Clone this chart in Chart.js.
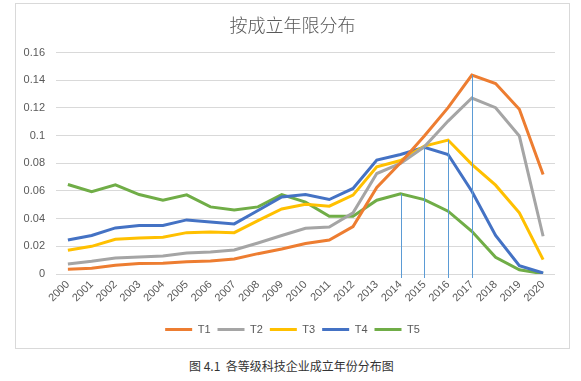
<!DOCTYPE html>
<html>
<head>
<meta charset="utf-8">
<script src="https://cdn.jsdelivr.net/npm/chart.js@4"></script>
<style>
  html, body { margin: 0; padding: 0; background: #fff; }
  body { width: 581px; height: 381px; position: relative; overflow: hidden; }
  #box { position: absolute; left: 15px; top: 3px; width: 555px; height: 346px; box-sizing: border-box; border: 1px solid #d9d9d9; }
  #wrap { position: absolute; left: 0; top: 0; width: 553px; height: 344px; }
  #caption { position: absolute; left: 189px; top: 358px; white-space: pre; font: 12px/16px "Noto Sans CJK SC", "Liberation Sans", sans-serif; color: #333; }
</style>
</head>
<body>
<div id="box"><div id="wrap"><canvas id="c"></canvas></div></div>
<div id="caption">图 4.1  各等级科技企业成立年份分布图</div>
<script>
const years = ['2000','2001','2002','2003','2004','2005','2006','2007','2008','2009','2010','2011','2012','2013','2014','2015','2016','2017','2018','2019','2020'];
const T1 = [0.0034,0.0041,0.0063,0.0075,0.0077,0.0089,0.0094,0.0109,0.0147,0.0181,0.0220,0.0246,0.0343,0.0625,0.0804,0.0997,0.1202,0.1438,0.1376,0.1190,0.0719];
const T2 = [0.0072,0.0092,0.0116,0.0123,0.0130,0.0152,0.0159,0.0174,0.0224,0.0278,0.0331,0.0340,0.0442,0.0726,0.0799,0.0919,0.1105,0.1272,0.1202,0.0997,0.0273];
const T3 = [0.0171,0.0200,0.0251,0.0261,0.0265,0.0299,0.0304,0.0299,0.0386,0.0470,0.0504,0.0490,0.0570,0.0775,0.0820,0.0924,0.0968,0.0792,0.0642,0.0442,0.0104];
const T4 = [0.0246,0.0278,0.0333,0.0350,0.0350,0.0391,0.0376,0.0362,0.0459,0.0557,0.0574,0.0538,0.0618,0.0823,0.0864,0.0915,0.0864,0.0598,0.0278,0.0060,0.0007];
const T5 = [0.0647,0.0594,0.0644,0.0574,0.0533,0.0572,0.0485,0.0463,0.0485,0.0574,0.0519,0.0417,0.0417,0.0533,0.0579,0.0538,0.0454,0.0309,0.0121,0.0031,0.0002];
const yTicks = [0, 0.02, 0.04, 0.06, 0.08, 0.1, 0.12, 0.14, 0.16];
// drop lines: year and the series whose value it falls from
const dropYears = ['2014','2015','2016','2017'];
const dropSeries = ['T5','T4','T3','T1'];

const seriesMap = {T1, T2, T3, T4, T5};
const colors = {T1:'#ed7d31', T2:'#a5a5a5', T3:'#ffc000', T4:'#4472c4', T5:'#70ad47'};
const FONT = '"Liberation Sans", "Noto Sans CJK SC", sans-serif';

const dropLinePlugin = {
  id: 'dropLines',
  afterDatasetsDraw(chart) {
    const {ctx, scales: {x, y}, chartArea} = chart;
    ctx.save();
    ctx.strokeStyle = '#5b9bd5';
    ctx.lineWidth = 1;
    dropYears.forEach((yr, i) => {
      const idx = years.indexOf(yr);
      const v = seriesMap[dropSeries[i]][idx];
      const px = Math.round(x.getPixelForValue(idx)) + 0.5;
      ctx.beginPath();
      ctx.moveTo(px, y.getPixelForValue(v));
      ctx.lineTo(px, chartArea.bottom + 4);
      ctx.stroke();
    });
    ctx.restore();
  }
};

new Chart(document.getElementById('c'), {
  type: 'line',
  data: {
    labels: years,
    datasets: Object.keys(seriesMap).map(k => ({
      label: k,
      data: seriesMap[k],
      borderColor: colors[k],
      backgroundColor: colors[k],
      borderWidth: 3,
      pointRadius: 0,
      pointHoverRadius: 0,
      tension: 0,
      fill: false,
      pointStyle: 'line',
      yAxisID: 'y'
    }))
  },
  options: {
    responsive: true,
    maintainAspectRatio: false,
    animation: false,
    layout: { padding: { left: 0, right: 0, top: 0, bottom: 3 } },
    plugins: {
      title: {
        display: true,
        text: '按成立年限分布',
        color: '#595959',
        font: { size: 18, family: '"Noto Sans CJK SC", sans-serif', weight: '300' },
        padding: { top: 10, bottom: 17 }
      },
      legend: {
        position: 'bottom',
        labels: {
          usePointStyle: true,
          pointStyle: 'line',
          pointStyleWidth: 27,
          boxHeight: 11,
          padding: 7,
          color: '#595959',
          font: { size: 11, family: FONT }
        }
      },
      tooltip: { enabled: false }
    },
    scales: {
      x: {
        offset: true,
        grid: { display: false, drawTicks: false },
        border: { display: false },
        ticks: {
          minRotation: 45, maxRotation: 45,
          color: '#595959',
          font: { size: 11, family: FONT },
          padding: 4,
          autoSkip: false
        },
        afterFit(s) { s.height = 43; }
      },
      y: {
        min: 0, max: 0.16,
        afterBuildTicks(s) { s.ticks = yTicks.map(v => ({value: v})); },
        grid: { color: '#d9d9d9', lineWidth: 1, drawTicks: false },
        border: { display: false },
        ticks: {
          color: '#595959',
          font: { size: 11, family: FONT },
          padding: 11,
          callback: v => String(parseFloat(Number(v).toFixed(2)))
        },
        afterFit(s) { s.width = 40; }
      },
      yr: {
        position: 'right',
        display: true,
        grid: { display: false, drawTicks: false },
        border: { display: false },
        ticks: { display: false },
        afterFit(s) { s.width = 14; }
      }
    }
  },
  plugins: [dropLinePlugin]
});
</script>
</body>
</html>
